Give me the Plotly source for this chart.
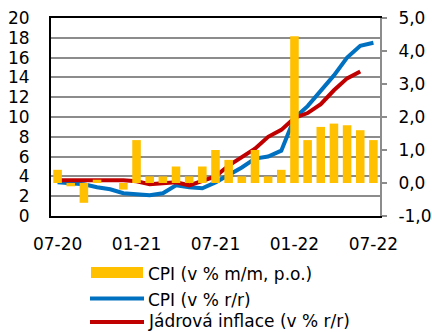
import plotly.graph_objects as go

months = ["07-20", "08-20", "09-20", "10-20", "11-20", "12-20",
          "01-21", "02-21", "03-21", "04-21", "05-21", "06-21",
          "07-21", "08-21", "09-21", "10-21", "11-21", "12-21",
          "01-22", "02-22", "03-22", "04-22", "05-22", "06-22", "07-22"]
tick_labels = ["07-20", "01-21", "07-21", "01-22", "07-22"]
right_tick_vals = [-1, 0, 1, 2, 3, 4, 5]
right_tick_labels = ["-1,0", "0,0", "1,0", "2,0", "3,0", "4,0", "5,0"]

cpi_mm = [0.4, -0.1, -0.6, 0.1, 0.0, -0.2, 1.3, 0.2, 0.2, 0.5, 0.2, 0.5,
          1.0, 0.7, 0.2, 1.0, 0.2, 0.4, 4.45, 1.3, 1.7, 1.8, 1.75, 1.6, 1.3]
cpi_yy = [3.4, 3.3, 3.2, 2.9, 2.7, 2.3, 2.2, 2.1, 2.3, 3.1, 2.9, 2.8,
          3.4, 4.1, 4.9, 5.8, 6.0, 6.6, 9.9, 11.1, 12.7, 14.2, 16.0, 17.2, 17.5]
core_yy = [3.6, 3.6, 3.6, 3.7, 3.7, 3.6, 3.5, 3.2, 3.3, 3.4, 3.1, 3.5,
           4.0, 5.1, 6.0, 6.8, 8.0, 8.7, 9.9, 10.4, 11.3, 12.7, 13.9, 14.6]

names = ["CPI (v % m/m, p.o.)", "CPI (v % r/r)", "Jádrová inflace (v % r/r)"]
YELLOW, BLUE, RED = "#FFC000", "#0070C0", "#C00000"
FONT = "DejaVu Sans"
FS = 17

fig = go.Figure()
fig.add_trace(go.Bar(x=months, y=cpi_mm, yaxis="y2", marker_color=YELLOW,
                     marker_line_width=0, name=names[0], showlegend=False))
fig.add_trace(go.Scatter(x=months, y=cpi_yy, mode="lines", name=names[1],
                         line=dict(color=BLUE, width=4), showlegend=False))
fig.add_trace(go.Scatter(x=months[:len(core_yy)], y=core_yy, mode="lines", name=names[2],
                         line=dict(color=RED, width=4), showlegend=False))

W, H = 432, 332
L, R, T, B = 51, 380, 18, 216


def px(xp):
    return (xp - L) / (R - L)


def py(yp):
    return (B - yp) / (B - T)


shapes = [
    dict(type="rect", xref="paper", yref="paper", x0=px(91), x1=px(143),
         y0=py(278), y1=py(267), fillcolor=YELLOW, line_width=0),
    dict(type="line", xref="paper", yref="paper", x0=px(90), x1=px(144),
         y0=py(298.5), y1=py(298.5), line=dict(color=BLUE, width=4)),
    dict(type="line", xref="paper", yref="paper", x0=px(90), x1=px(144),
         y0=py(322), y1=py(322), line=dict(color=RED, width=4)),
]
annotations = []
for name, yc in zip(names, [274, 300, 321]):
    annotations.append(dict(text=name, xref="paper", yref="paper", x=px(146), y=py(yc),
                            xanchor="left", yanchor="middle", showarrow=False,
                            font=dict(family=FONT, size=FS, color="black")))

fig.update_layout(
    width=W, height=H,
    margin=dict(l=L, r=W - R, t=T, b=H - B, autoexpand=False),
    paper_bgcolor="white", plot_bgcolor="white",
    font=dict(family=FONT, size=FS, color="black"),
    bargap=0.35,
    shapes=shapes, annotations=annotations,
    xaxis=dict(type="category", tickvals=tick_labels, ticktext=tick_labels,
               showline=True, linecolor="black", linewidth=2, mirror=True,
               ticks="", showgrid=False, ticklabelstandoff=12, automargin=False,
               range=[-0.5, len(months) - 0.5]),
    yaxis=dict(range=[0, 20], dtick=2, showline=True, linecolor="black", linewidth=2,
               showgrid=True, gridcolor="#8c8c8c", gridwidth=2, zeroline=False,
               ticks="", ticklabelstandoff=16, automargin=False),
    yaxis2=dict(range=[-1, 5], overlaying="y", side="right",
                tickvals=right_tick_vals, ticktext=right_tick_labels,
                showline=True, linecolor="#8c8c8c", linewidth=2,
                ticks="outside", ticklen=5, tickcolor="#8c8c8c", tickwidth=2,
                showgrid=False, zeroline=False, ticklabelstandoff=8, automargin=False),
)

fig.write_html("out.html", config={"displayModeBar": False},
               post_script="document.body.style.margin='0px';document.body.style.padding='0px';")
